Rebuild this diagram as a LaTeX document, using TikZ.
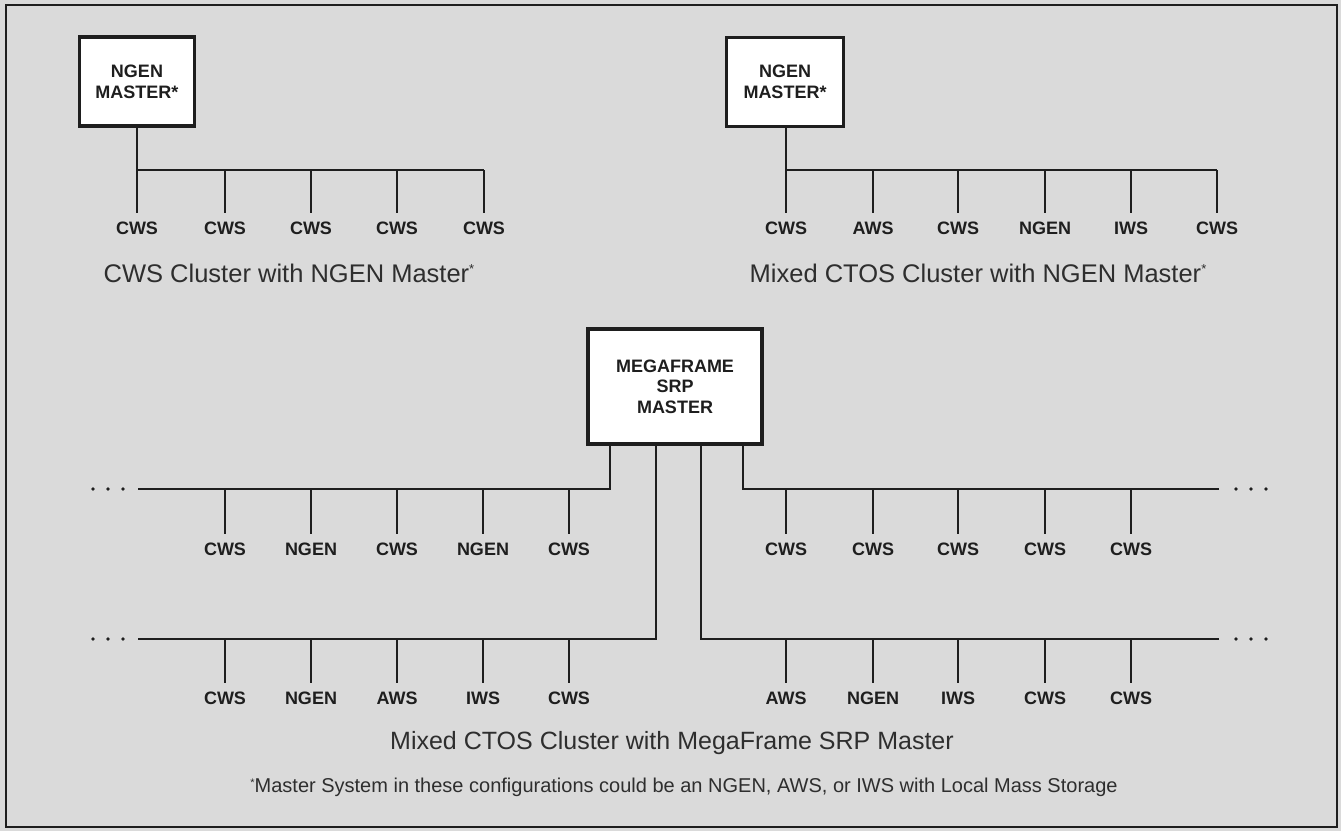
\documentclass[tikz,border=0pt]{standalone}
\usepackage{fontspec}
\setmainfont{Liberation Sans}
\definecolor{bgc}{HTML}{DADADA}
\definecolor{ink}{HTML}{1E1E1E}
\definecolor{captc}{HTML}{2E2E2E}
\begin{document}
\begin{tikzpicture}[x=1pt,y=-1pt,
  master/.style={draw=ink,line width=3.5pt,fill=white,align=center,inner sep=0pt,
    font=\fontsize{18}{21}\selectfont\bfseries,text=ink},
  ws/.style={font=\fontsize{18}{20}\selectfont\bfseries,text=ink,inner sep=3pt},
  bus/.style={draw=ink,line width=2.6pt},
  drop/.style={draw=ink,line width=2pt,shorten >=5pt},
  capt/.style={font=\fontsize{25.5}{28}\selectfont,text=captc},
  foot/.style={font=\fontsize{20}{22}\selectfont,text=captc},
  dot/.style={fill=ink,circle,inner sep=0pt,minimum size=3.8pt}]
\fill[bgc] (0,0) rectangle (1341,831);
\draw[ink,line width=1.6pt] (6,5) rectangle (1337,827);

% ---------- top-left cluster ----------
\node[master,minimum width=115pt,minimum height=89pt] (m1) at (137,81.5) {NGEN\\MASTER*};
\coordinate (m1j) at (137,170);
\coordinate (m1e) at (484,170);
\draw[bus] (m1.south) -- (m1j) -- (m1e);
\foreach \x/\t/\n in {137/CWS/a1,225/CWS/a2,311/CWS/a3,397/CWS/a4,484/CWS/a5}{
  \node[ws] (\n) at (\x,228) {\t};
  \coordinate (\n j) at (\x,170);
  \draw[drop] (\n j) -- (\n.north);
}
\node[capt] (c1) at (289,273) {CWS Cluster with NGEN Master\raisebox{0.35em}{\fontsize{13}{13}\selectfont*}};

% ---------- top-right cluster ----------
\node[master,minimum width=117pt,minimum height=89pt] (m2) at (785,82) {NGEN\\MASTER*};
\coordinate (m2j) at (786,170);
\coordinate (m2e) at (1217,170);
\draw[bus] (m2.south -| m2j) -- (m2j) -- (m2e);
\foreach \x/\t/\n in {786/CWS/b1,873/AWS/b2,958/CWS/b3,1045/NGEN/b4,1131/IWS/b5,1217/CWS/b6}{
  \node[ws] (\n) at (\x,228) {\t};
  \coordinate (\n j) at (\x,170);
  \draw[drop] (\n j) -- (\n.north);
}
\node[capt] (c2) at (978,273) {Mixed CTOS Cluster with NGEN Master\raisebox{0.35em}{\fontsize{13}{13}\selectfont*}};

% ---------- MegaFrame cluster ----------
\node[master,minimum width=174pt,minimum height=115pt,font=\fontsize{18}{20.5}\selectfont\bfseries] (m3) at (675,386.5) {MEGAFRAME\\SRP\\MASTER};
\coordinate (p1) at (610,444);
\coordinate (p2) at (656,444);
\coordinate (p3) at (701,444);
\coordinate (p4) at (743,444);
\coordinate (ul) at (138,489);
\coordinate (ll) at (138,639);
\coordinate (ur) at (1219,489);
\coordinate (lr) at (1219,639);
\draw[bus] (ul) -- (ul -| p1) -- (p1);
\draw[bus] (ll) -- (ll -| p2) -- (p2);
\draw[bus] (lr) -- (lr -| p3) -- (p3);
\draw[bus] (ur) -- (ur -| p4) -- (p4);
\foreach \x in {93,108,123}{
  \node[dot] (dl\x) at (\x,489) {};
  \node[dot] (dm\x) at (\x,639) {};
}
\foreach \x in {1236,1251,1266}{
  \node[dot] (dr\x) at (\x,489) {};
  \node[dot] (ds\x) at (\x,639) {};
}
\foreach \x/\t/\n in {225/CWS/u1,311/NGEN/u2,397/CWS/u3,483/NGEN/u4,569/CWS/u5,
                      786/CWS/v1,873/CWS/v2,958/CWS/v3,1045/CWS/v4,1131/CWS/v5}{
  \node[ws] (\n) at (\x,549) {\t};
  \coordinate (\n j) at (\x,489);
  \draw[drop] (\n j) -- (\n.north);
}
\foreach \x/\t/\n in {225/CWS/w1,311/NGEN/w2,397/AWS/w3,483/IWS/w4,569/CWS/w5,
                      786/AWS/z1,873/NGEN/z2,958/IWS/z3,1045/CWS/z4,1131/CWS/z5}{
  \node[ws] (\n) at (\x,698) {\t};
  \coordinate (\n j) at (\x,639);
  \draw[drop] (\n j) -- (\n.north);
}
\node[capt,font=\fontsize{25}{28}\selectfont] (c3) at (672,743) {Mixed CTOS Cluster with MegaFrame SRP Master};
\node[foot] (c4) at (684,787) {\raisebox{0.3em}{\fontsize{11}{11}\selectfont*}Master System in these configurations could be an NGEN, AWS, or IWS with Local Mass Storage};
\end{tikzpicture}
\end{document}
